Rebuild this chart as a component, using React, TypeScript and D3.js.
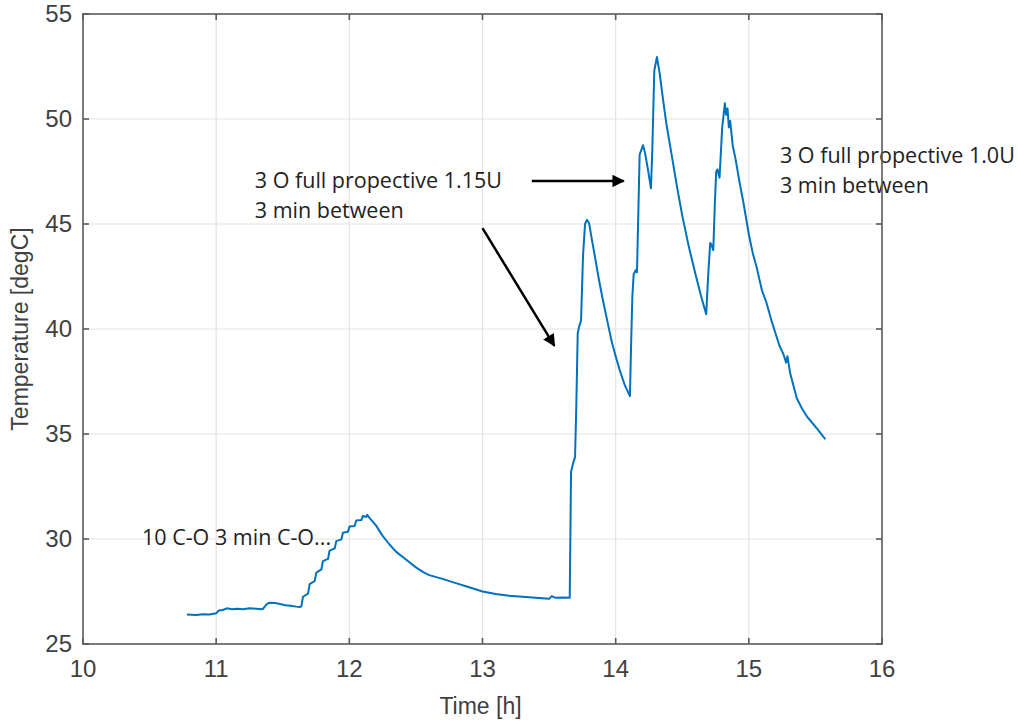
import React from 'react'
import * as d3 from 'd3'

// time [h] and temperature [degC]
const hours = [
  10.78, 10.85, 10.9, 10.95, 11.0, 11.02, 11.05, 11.08, 11.12, 11.16, 11.2, 11.25, 11.3, 11.35,
  11.38, 11.4, 11.44, 11.48, 11.52, 11.56, 11.6, 11.63,
  11.64, 11.652, 11.69, 11.702, 11.74, 11.752, 11.79, 11.802, 11.84, 11.852, 11.89, 11.902,
  11.94, 11.952, 11.99, 12.002, 12.04, 12.052, 12.09, 12.102, 12.125, 12.135, 12.145,
  12.2, 12.25, 12.3, 12.35, 12.43, 12.5, 12.555, 12.6, 12.7, 12.8, 12.9, 13.0, 13.1, 13.2,
  13.3, 13.4, 13.5, 13.52, 13.55, 13.6, 13.655,
  13.665, 13.68, 13.695, 13.705, 13.715, 13.725, 13.74, 13.755, 13.77, 13.785, 13.8,
  13.82, 13.84, 13.87, 13.9, 13.93, 13.97, 14.0, 14.03, 14.07, 14.107,
  14.115, 14.125, 14.135, 14.15, 14.16, 14.17, 14.18, 14.205, 14.22, 14.245, 14.265,
  14.275, 14.29, 14.31, 14.33, 14.35, 14.38, 14.42, 14.46, 14.5, 14.55, 14.6, 14.64, 14.68,
  14.695, 14.71, 14.72, 14.733, 14.745, 14.755, 14.765, 14.78, 14.8, 14.82, 14.83, 14.84,
  14.85, 14.86, 14.88, 14.9, 14.93, 14.96, 15.0, 15.03, 15.06, 15.1, 15.13, 15.17, 15.2,
  15.23, 15.26, 15.28, 15.29, 15.31, 15.36, 15.4, 15.44, 15.48, 15.52, 15.55, 15.575
]
const temps = [
  26.4, 26.38, 26.42, 26.4, 26.46, 26.6, 26.62, 26.7, 26.66, 26.68, 26.66, 26.7, 26.68, 26.66,
  26.9, 26.97, 26.95, 26.9, 26.85, 26.82, 26.78, 26.76,
  26.8, 27.25, 27.4, 27.85, 28.0, 28.4, 28.55, 28.95, 29.05, 29.45, 29.55, 29.9,
  29.98, 30.3, 30.35, 30.6, 30.62, 30.88, 30.9, 31.1, 31.05, 31.15, 31.05,
  30.65, 30.15, 29.75, 29.4, 29.0, 28.65, 28.42, 28.28, 28.1, 27.9, 27.7, 27.5, 27.38, 27.3,
  27.25, 27.2, 27.15, 27.28, 27.2, 27.22, 27.2,
  33.2, 33.6, 33.9, 36.5, 39.8, 40.1, 40.4, 43.5, 45.0, 45.2, 45.05,
  44.3, 43.6, 42.5, 41.5, 40.6, 39.4, 38.7, 38.05, 37.3, 36.8,
  39.0, 41.5, 42.6, 42.8, 42.7, 45.5, 48.3, 48.75, 48.4, 47.5, 46.7,
  48.5, 52.3, 52.95, 52.2, 51.2, 49.8, 48.3, 46.8, 45.4, 43.9, 42.6, 41.6, 40.7,
  42.6, 44.1, 44.0, 43.75, 46.0, 47.5, 47.6, 47.2, 49.6, 50.75, 50.2, 50.5,
  49.6, 49.9, 48.7, 48.1, 47.0, 46.0, 44.5, 43.6, 42.9, 41.8, 41.3, 40.4, 39.8,
  39.2, 38.8, 38.4, 38.7, 37.9, 36.7, 36.2, 35.8, 35.5, 35.2, 34.95, 34.75
]

const xTicks = [10, 11, 12, 13, 14, 15, 16]
const yTicks = [25, 30, 35, 40, 45, 50, 55]

const notes = [
  { lines: ['3 O full propective 1.15U', '3 min between'], x: 11.29, y: 46.71 },
  { lines: ['3 O full propective 1.0U', '3 min between'], x: 15.234, y: 47.9 },
  { lines: ['10 C-O 3 min C-O...'], x: 10.443, y: 29.71 }
]

const W = 1018
const H = 722
const margin = { top: 14, right: 136, bottom: 78, left: 83 }

export default function App() {
  const x = d3.scaleLinear().domain([10, 16]).range([margin.left, W - margin.right])
  const y = d3.scaleLinear().domain([25, 55]).range([H - margin.bottom, margin.top])
  const pts: [number, number][] = hours.map((h, i) => [h, temps[i]])
  const line = d3
    .line<[number, number]>()
    .x(d => x(d[0]))
    .y(d => y(d[1]))

  const x0 = x(10), x1 = x(16), y0 = y(25), y1 = y(55)
  const axisColor = '#5a5a5a'
  const tick = 6

  return (
    <svg width={W} height={H} style={{ position: 'absolute', left: 0, top: 0, background: '#fff' }}>
      <defs>
        <marker id="head" viewBox="0 0 10 10" refX="9" refY="5" markerWidth="5" markerHeight="5" orient="auto">
          <path d="M0,0 L10,5 L0,10 z" fill="#000" />
        </marker>
      </defs>
      {/* grid */}
      {xTicks.slice(1, -1).map(t => (
        <line key={'gx' + t} x1={x(t)} x2={x(t)} y1={y1} y2={y0} stroke="#e3e3e3" strokeWidth={1.2} />
      ))}
      {yTicks.slice(1, -1).map(t => (
        <line key={'gy' + t} x1={x0} x2={x1} y1={y(t)} y2={y(t)} stroke="#e3e3e3" strokeWidth={1.2} />
      ))}

      {/* annotations */}
      {notes.map((n, i) => (
        <text key={'n' + i} fontFamily="'Open Sans', 'Noto Sans', sans-serif" fontSize={21.5} fill="#222">
          {n.lines.map((s, j) => (
            <tspan key={j} x={x(n.x)} y={y(n.y) + j * 30}>{s}</tspan>
          ))}
        </text>
      ))}
      <line x1={x(13.0)} y1={y(44.8)} x2={x(13.54)} y2={y(39.2)} stroke="#000" strokeWidth={2.5} markerEnd="url(#head)" />
      <line x1={x(13.37)} y1={y(47.05)} x2={x(14.06)} y2={y(47.05)} stroke="#000" strokeWidth={2.5} markerEnd="url(#head)" />

      <path d={line(pts) || ''} fill="none" stroke="#0072BD" strokeWidth={2} strokeLinejoin="round" />

      {/* box and ticks */}
      <rect x={x0} y={y1} width={x1 - x0} height={y0 - y1} fill="none" stroke={axisColor} strokeWidth={1.6} />
      {xTicks.map(t => (
        <g key={'tx' + t}>
          <line x1={x(t)} x2={x(t)} y1={y0} y2={y0 - tick} stroke={axisColor} strokeWidth={1.6} />
          <line x1={x(t)} x2={x(t)} y1={y1} y2={y1 + tick} stroke={axisColor} strokeWidth={1.6} />
          <text x={x(t)} y={y0 + 33} textAnchor="middle" fontFamily="'Liberation Sans', Arial, sans-serif" fontSize={24} fill="#404040">{t}</text>
        </g>
      ))}
      {yTicks.map(t => (
        <g key={'ty' + t}>
          <line x1={x0} x2={x0 + tick} y1={y(t)} y2={y(t)} stroke={axisColor} strokeWidth={1.6} />
          <line x1={x1} x2={x1 - tick} y1={y(t)} y2={y(t)} stroke={axisColor} strokeWidth={1.6} />
          <text x={x0 - 11} y={y(t) + 8} textAnchor="end" fontFamily="'Liberation Sans', Arial, sans-serif" fontSize={24} fill="#404040">{t}</text>
        </g>
      ))}
      <text x={(x0 + x1) / 2 - 2} y={H - 8} textAnchor="middle" fontFamily="'Liberation Sans', Arial, sans-serif" fontSize={23} fill="#404040">Time [h]</text>
      <text transform={`translate(28,${(y0 + y1) / 2}) rotate(-90)`} textAnchor="middle" fontFamily="'Liberation Sans', Arial, sans-serif" fontSize={23} fill="#404040">Temperature [degC]</text>
    </svg>
  )
}
